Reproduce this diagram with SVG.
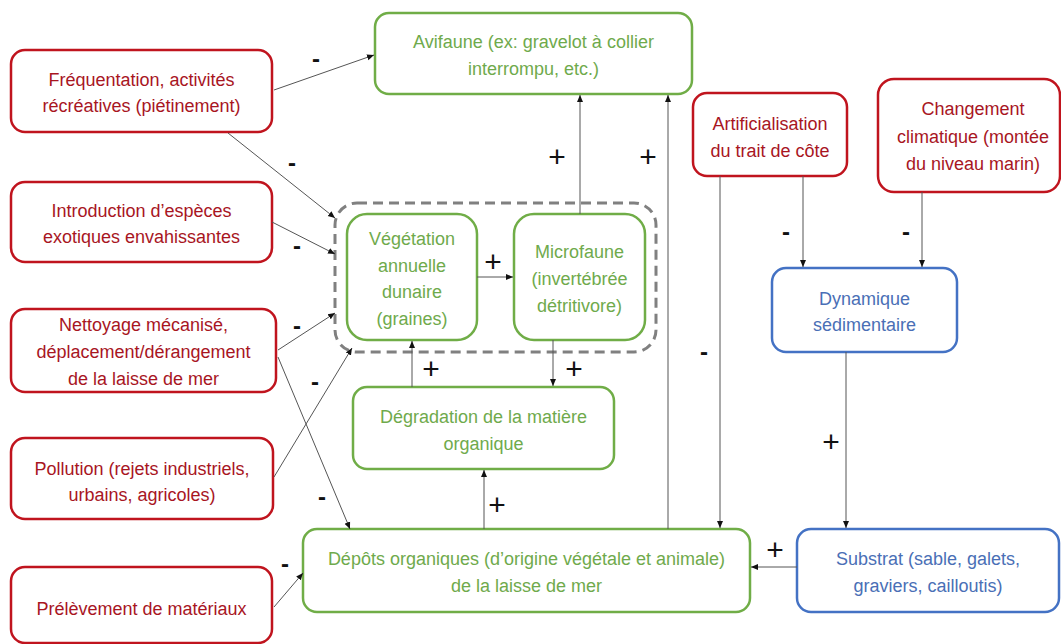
<svg xmlns="http://www.w3.org/2000/svg" width="1061" height="644" viewBox="0 0 1061 644">
<style>
text{font-family:"Liberation Sans",Arial,sans-serif;font-size:18px;text-anchor:middle}
.red rect{fill:#fff;stroke:#c0141e;stroke-width:2.5}
.red text{fill:#a8161f}
.green rect{fill:#fff;stroke:#70ad47;stroke-width:2.5}
.green text{fill:#6faa4c}
.blue rect{fill:#fff;stroke:#4472c4;stroke-width:2.5}
.blue text{fill:#4a6fb6}
.c line{stroke:#555;stroke-width:1;marker-end:url(#ah)}
.c text{fill:#111;font-weight:bold;font-size:24px}
.c text.p{font-weight:normal;font-size:30px}
</style>
<defs>
<marker id="ah" markerUnits="userSpaceOnUse" markerWidth="8" markerHeight="8" refX="7" refY="4" orient="auto">
<path d="M0,1 L7,4 L0,7 Z" fill="#111"/>
</marker>
</defs>
<rect width="1061" height="644" fill="#fff"/>
<g id="container"><rect x="335" y="203" width="321" height="149" rx="22" fill="none" stroke="#808080" stroke-width="3" stroke-dasharray="10 6"/></g>
<g id="frequentation" class="red"><rect x="11" y="50" width="261" height="82" rx="14"/><text x="141.5" y="86">Fréquentation, activités</text><text x="141.5" y="112">récréatives (piétinement)</text></g>
<g id="introduction" class="red"><rect x="11" y="182" width="261" height="80" rx="14"/><text x="141.5" y="217">Introduction d’espèces</text><text x="141.5" y="243">exotiques envahissantes</text></g>
<g id="nettoyage" class="red"><rect x="11" y="309" width="265" height="83" rx="14"/><text x="143.5" y="331">Nettoyage mécanisé,</text><text x="143.5" y="358">déplacement/dérangement</text><text x="143.5" y="385">de la laisse de mer</text></g>
<g id="pollution" class="red"><rect x="11" y="438" width="262" height="81" rx="14"/><text x="142" y="475">Pollution (rejets industriels,</text><text x="142" y="501">urbains, agricoles)</text></g>
<g id="prelevement" class="red"><rect x="11" y="567" width="261" height="76" rx="14"/><text x="141.5" y="615">Prélèvement de matériaux</text></g>
<g id="avifaune" class="green"><rect x="375" y="13" width="317" height="81" rx="14"/><text x="533.5" y="48">Avifaune (ex: gravelot à collier</text><text x="533.5" y="75">interrompu, etc.)</text></g>
<g id="artificialisation" class="red"><rect x="693" y="93" width="154" height="83" rx="14"/><text x="770" y="130">Artificialisation</text><text x="770" y="157">du trait de côte</text></g>
<g id="changement" class="red"><rect x="878" y="79" width="182" height="113" rx="16"/><text x="973" y="115">Changement</text><text x="973" y="143">climatique (montée</text><text x="973" y="170">du niveau marin)</text></g>
<g id="vegetation" class="green"><rect x="347" y="214" width="130" height="126" rx="20"/><text x="412" y="245">Végétation</text><text x="412" y="272">annuelle</text><text x="412" y="298">dunaire</text><text x="412" y="325">(graines)</text></g>
<g id="microfaune" class="green"><rect x="514" y="214" width="131" height="126" rx="20"/><text x="579.5" y="258">Microfaune</text><text x="579.5" y="285">(invertébrée</text><text x="579.5" y="312">détritivore)</text></g>
<g id="dynamique" class="blue"><rect x="772" y="268" width="185" height="84" rx="14"/><text x="864.5" y="305">Dynamique</text><text x="864.5" y="331">sédimentaire</text></g>
<g id="degradation" class="green"><rect x="353" y="387" width="261" height="82" rx="14"/><text x="483.5" y="423">Dégradation de la matière</text><text x="483.5" y="450">organique</text></g>
<g id="depots" class="green"><rect x="303" y="529" width="447" height="83" rx="14"/><text x="526.5" y="565">Dépôts organiques (d’origine végétale et animale)</text><text x="526.5" y="592">de la laisse de mer</text></g>
<g id="substrat" class="blue"><rect x="797" y="529" width="262" height="83" rx="14"/><text x="928" y="565">Substrat (sable, galets,</text><text x="928" y="592">graviers, cailloutis)</text></g>
<g id="connectors" class="c">
<line x1="274" y1="90" x2="374" y2="55"/><text x="316" y="67">-</text>
<line x1="228" y1="133" x2="335" y2="218"/><text x="292" y="171">-</text>
<line x1="272" y1="222" x2="335" y2="254"/><text x="297" y="254">-</text>
<line x1="278" y1="350" x2="335" y2="313"/><text x="297" y="334">-</text>
<line x1="278" y1="357" x2="350" y2="529"/><text x="322" y="505">-</text>
<line x1="274" y1="477" x2="352" y2="348"/><text x="315" y="390">-</text>
<line x1="274" y1="607" x2="303" y2="573"/><text x="285" y="572">-</text>
<line x1="580" y1="214" x2="580" y2="95"/><text class="p" x="557" y="167">+</text>
<line x1="668" y1="529" x2="668" y2="95"/><text class="p" x="648" y="167">+</text>
<line x1="477" y1="277" x2="513" y2="277"/><text class="p" x="493" y="272">+</text>
<line x1="412" y1="387" x2="412" y2="341"/><text class="p" x="431" y="379">+</text>
<line x1="553" y1="340" x2="553" y2="386"/><text class="p" x="574" y="379">+</text>
<line x1="484" y1="529" x2="484" y2="470"/><text class="p" x="497" y="515">+</text>
<line x1="720" y1="176" x2="720" y2="528"/><text x="704" y="360">-</text>
<line x1="803" y1="176" x2="803" y2="267"/><text x="786" y="240">-</text>
<line x1="922" y1="192" x2="922" y2="267"/><text x="906" y="240">-</text>
<line x1="846" y1="352" x2="846" y2="528"/><text class="p" x="831" y="452">+</text>
<line x1="797" y1="567" x2="751" y2="567"/><text class="p" x="775" y="560">+</text>
</g>
</svg>
